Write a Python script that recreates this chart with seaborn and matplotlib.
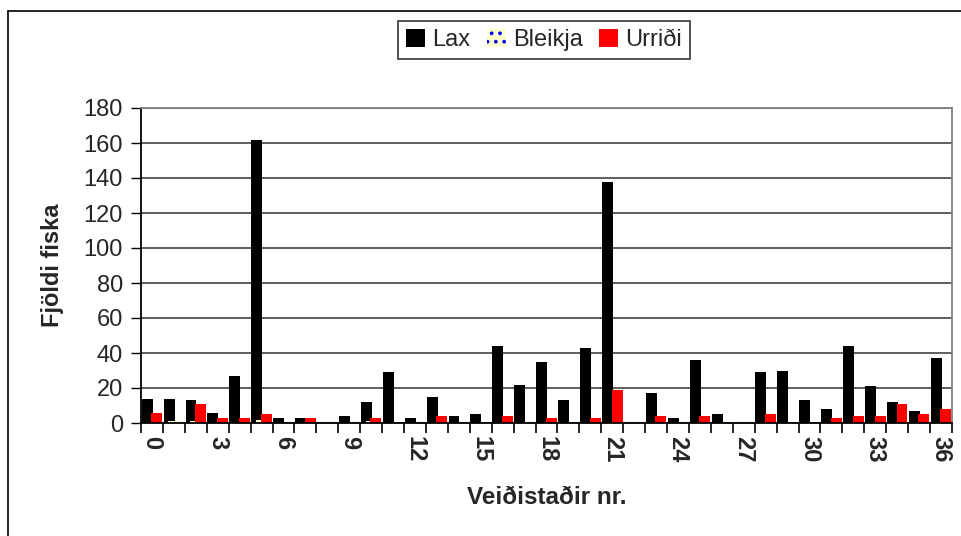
import matplotlib
matplotlib.use("Agg")
import matplotlib.pyplot as plt
import numpy as np
import pandas as pd
import seaborn as sns
from matplotlib.lines import Line2D

# ---- data ----
sites = list(range(37))
lax = [14, 14, 13, 6, 27, 162, 3, 3, 0, 4, 12, 29, 3, 15, 4, 5, 44, 22, 35, 13,
       43, 138, 0, 17, 3, 36, 5, 0, 29, 30, 13, 8, 44, 21, 12, 7, 37]
bleikja = [0, 1, 1, 0, 0, 2, 0, 0, 0, 0, 1, 0, 0, 0, 0, 0, 0, 0, 0, 0,
           0, 0, 0, 0, 0, 0, 0, 0, 0, 0, 0, 0, 0, 0, 0, 0, 0]
urridi = [6, 0, 11, 3, 3, 5, 0, 3, 0, 0, 3, 0, 0, 4, 0, 0, 4, 0, 3, 0,
          3, 19, 0, 4, 0, 4, 0, 0, 5, 0, 0, 3, 4, 4, 11, 5, 8]
species = ["Lax", "Bleikja", "Urriði"]
yticks = list(range(0, 181, 20))
xtick_labels = [str(s) if s % 3 == 0 else "" for s in sites]

df = pd.DataFrame({
    "site": sites * 3,
    "count": lax + bleikja + urridi,
    "species": [species[0]] * 37 + [species[1]] * 37 + [species[2]] * 37,
})

sns.set_theme(style="white")
plt.rcParams["font.family"] = ["Liberation Sans", "DejaVu Sans"]
plt.rcParams["hatch.linewidth"] = 1.5

fig = plt.figure(figsize=(9.61, 5.36), dpi=100)
ax = fig.add_axes([141 / 961, 113 / 536, 811 / 961, 315 / 536])

palette = {"Lax": "#000000", "Bleikja": "#FFFFCC", "Urriði": "#FF0000"}
sns.barplot(data=df, x="site", y="count", hue="species", hue_order=species,
            palette=palette, width=0.66, gap=-1.27, saturation=1,
            linewidth=0, errorbar=None, legend=False, ax=ax)

# Bleikja bars: dotted blue pattern on pale yellow
for p in ax.containers[1]:
    p.set_hatch("..")
    p.set_edgecolor("#0000FF")
    p.set_linewidth(0)

ax.set_xlim(-0.5, 36.5)
ax.set_ylim(0, 180)
ax.set_yticks(yticks)
ax.set_yticklabels([str(v) for v in yticks], fontsize=17)
ax.set_xticks(sites)
ax.set_xticklabels(xtick_labels, rotation=-90, fontsize=17, fontweight="bold")
ax.set_xticks(np.arange(-0.5, 37, 1), minor=True)
ax.tick_params(axis="x", which="major", length=0, pad=9)
ax.tick_params(axis="x", which="minor", length=7, width=1.2, direction="out",
               color="black", bottom=True)
ax.tick_params(axis="y", which="major", length=7, width=1, direction="out",
               color="black", left=True, pad=6)

ax.yaxis.grid(True, color="#333333", linewidth=1.1)
ax.set_axisbelow(True)
for side in ["left", "bottom"]:
    ax.spines[side].set_color("black")
    ax.spines[side].set_linewidth(1.3)
for side in ["top", "right"]:
    ax.spines[side].set_color("#808080")
    ax.spines[side].set_linewidth(1.3)

ax.set_ylabel("Fjöldi fiska", fontsize=17, fontweight="bold", labelpad=14)
ax.set_xlabel("Veiðistaðir nr.", fontsize=17.5, fontweight="bold", labelpad=17)

leg = fig.legend(handles=list(ax.containers), labels=species, loc="center",
                 bbox_to_anchor=(544 / 961, 1 - 40 / 536), ncol=3,
                 fontsize=17, frameon=True, fancybox=False,
                 handlelength=0.8, handleheight=0.8, handletextpad=0.3,
                 columnspacing=0.7, borderpad=0.35)
leg.get_frame().set_edgecolor("black")
leg.get_frame().set_linewidth(1.2)

# outer chart frame (left and top edges visible)
fig.add_artist(Line2D([7.5 / 961, 7.5 / 961], [0, 1 - 10.5 / 536],
                      transform=fig.transFigure, color="black", lw=1.2))
fig.add_artist(Line2D([7.5 / 961, 1], [1 - 10.5 / 536, 1 - 10.5 / 536],
                      transform=fig.transFigure, color="black", lw=1.2))

fig.savefig("out.png", dpi=100, facecolor="white")
